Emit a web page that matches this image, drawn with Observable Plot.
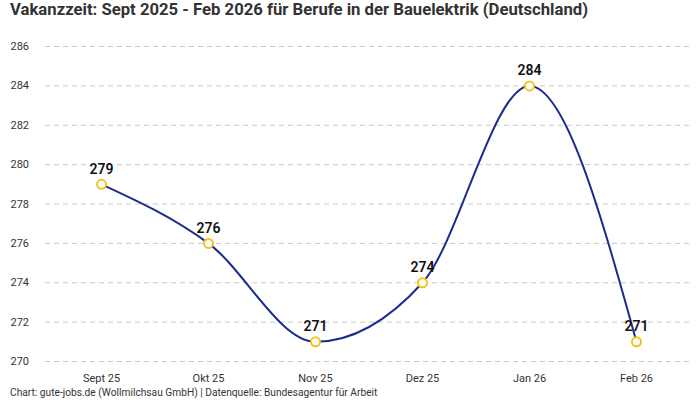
<!DOCTYPE html>
<html>
<head>
<meta charset="utf-8">
<script src="https://cdn.jsdelivr.net/npm/d3@7"></script>
<script src="https://cdn.jsdelivr.net/npm/@observablehq/plot@0.6"></script>
<style>
  body { margin: 0; background: #fff; font-family: Roboto, "Noto Sans", sans-serif; }
  #wrap { width: 700px; height: 400px; position: relative; overflow: hidden; }
  #title { position: absolute; left: 10px; top: 0px; font-size: 16.7px; font-weight: 700; color: #333; line-height: 20px; white-space: nowrap; }
  #chart { position: absolute; left: 0; top: 24px; }
  #caption { position: absolute; left: 10px; top: 386px; font-size: 10.2px; color: #333; line-height: 14px; white-space: nowrap; }
</style>
</head>
<body>
<div id="wrap">
  <div id="title">Vakanzzeit: Sept 2025 - Feb 2026 für Berufe in der Bauelektrik (Deutschland)</div>
  <div id="chart"></div>
  <div id="caption">Chart: gute-jobs.de (Wollmilchsau GmbH) | Datenquelle: Bundesagentur für Arbeit</div>
</div>
<script>
const months = ["Sept 25", "Okt 25", "Nov 25", "Dez 25", "Jan 26", "Feb 26"];
const values = [279, 276, 271, 274, 284, 271];
const yTicks = [270, 272, 274, 276, 278, 280, 282, 284, 286];

const data = months.map((m, i) => ({month: m, value: values[i]}));

const plot = Plot.plot({
  width: 700,
  height: 360,
  marginLeft: 45,
  marginRight: 9,
  marginTop: 22,
  marginBottom: 23,
  style: {fontFamily: "Roboto, 'Noto Sans', sans-serif", fontSize: "11px", color: "#333", background: "#fff"},
  x: {type: "point", domain: months, padding: 0.5, label: null},
  y: {domain: [270, 286], label: null},
  marks: [
    Plot.gridY(yTicks, {stroke: "#c8c8c8", strokeOpacity: 1, strokeDasharray: "5,4"}),
    Plot.axisY(yTicks, {tickSize: 0, tickPadding: 0, textAnchor: "start", dx: -35, fontSize: 11, fill: "#333", label: null}),
    Plot.axisX({tickSize: 0, tickPadding: 13, fontSize: 11, fill: "#333", label: null}),
    Plot.line(data, {x: "month", y: "value", curve: "monotone-x", stroke: "#1c2c8c", strokeWidth: 2}),
    Plot.dot(data, {x: "month", y: "value", r: 4.5, fill: "#fff", stroke: "#f7c21e", strokeWidth: 2}),
    Plot.text(data, {x: "month", y: "value", text: d => String(d.value), dy: -15, fontSize: 14, fontWeight: 600, fill: "#111"})
  ]
});
document.getElementById("chart").appendChild(plot);
</script>
</body>
</html>
